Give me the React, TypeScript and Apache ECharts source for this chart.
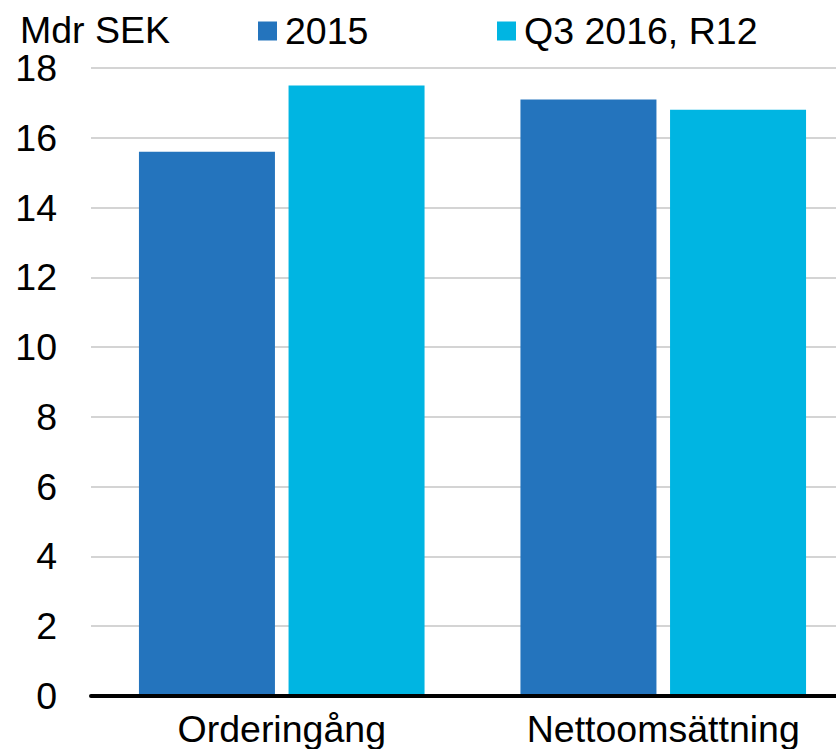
import React, { useEffect, useRef } from "react";
import * as echarts from "echarts";

const categories = ["Orderingång", "Nettoomsättning"];
const seriesNames = ["2015", "Q3 2016, R12"];
const values2015 = [15.6, 17.1];
const valuesQ3 = [17.5, 16.8];
const unitLabel = "Mdr SEK";

const FONT = "'Liberation Sans', Arial, sans-serif";
const FS = 37.5;
const C1 = "#2474bd";
const C2 = "#00b5e2";

export default function App() {
  const ref = useRef<HTMLDivElement>(null);
  useEffect(() => {
    if (!ref.current) return;
    const chart = echarts.init(ref.current, undefined, { renderer: "svg" });
    chart.setOption({
      animation: false,
      backgroundColor: "#ffffff",
      textStyle: { fontFamily: FONT },
      graphic: [
        {
          type: "text",
          x: 20,
          y: 30,
          style: {
            text: unitLabel,
            fontSize: FS,
            fontFamily: FONT,
            fill: "#000",
            verticalAlign: "middle",
          },
        },
      ],
      legend: [
        {
          data: [seriesNames[0]],
          left: 258,
          top: 12,
          padding: 0,
          itemWidth: 19,
          itemHeight: 19,
          icon: "rect",
          textStyle: { fontSize: FS, fontFamily: FONT, color: "#000", padding: [0, 0, 0, 3] },
        },
        {
          data: [seriesNames[1]],
          left: 497,
          top: 12,
          padding: 0,
          itemWidth: 19,
          itemHeight: 19,
          icon: "rect",
          textStyle: { fontSize: FS, fontFamily: FONT, color: "#000", padding: [0, 0, 0, 3] },
        },
      ],
      grid: { left: 91, right: 0, top: 68, bottom: 53, containLabel: false },
      xAxis: {
        type: "category",
        data: categories,
        axisTick: { show: false },
        axisLine: { show: true, lineStyle: { color: "#000", width: 4 } },
        axisLabel: { fontSize: FS, fontFamily: FONT, color: "#000", margin: 14 },
        z: 10,
      },
      yAxis: {
        type: "value",
        min: 0,
        max: 18,
        interval: 2,
        axisLine: { show: false },
        axisTick: { show: false },
        splitLine: { lineStyle: { color: "#c6c6c6", width: 1.5 } },
        axisLabel: { fontSize: FS, fontFamily: FONT, color: "#000", margin: 34 },
      },
      series: [
        {
          name: seriesNames[0],
          type: "bar",
          data: values2015,
          barWidth: 136,
          barGap: "10%",
          itemStyle: { color: C1 },
        },
        {
          name: seriesNames[1],
          type: "bar",
          data: valuesQ3,
          barWidth: 136,
          itemStyle: { color: C2 },
        },
      ],
    });
    return () => chart.dispose();
  }, []);
  return (
    <div
      style={{
        position: "absolute",
        left: 0,
        top: 0,
        width: 836,
        height: 749,
        overflow: "hidden",
      }}
    >
      <div ref={ref} style={{ width: 854, height: 749 }} />
    </div>
  );
}
